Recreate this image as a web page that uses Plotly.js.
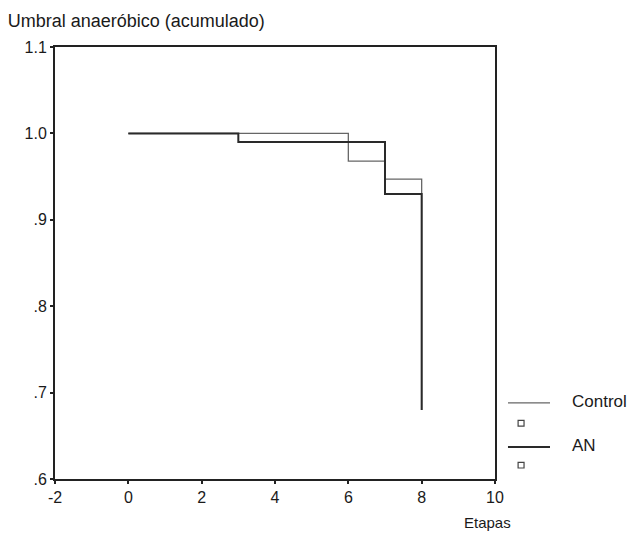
<!DOCTYPE html>
<html>
<head>
<meta charset="utf-8">
<script src="https://cdn.plot.ly/plotly-3.0.1.min.js"></script>
<style>html,body{margin:0;padding:0;background:#fff;}#chart{width:637px;height:537px;}</style>
</head>
<body>
<div id="chart"></div>
<script>
// Cumulative survival (step functions)
var controlX = [0, 6, 7, 8];
var controlY = [1.0, 0.968, 0.947, 0.68];
var anX = [0, 3, 7, 8];
var anY = [1.0, 0.99, 0.93, 0.68];

var xTicks = [-2, 0, 2, 4, 6, 8, 10];
var xTickText = ['-2', '0', '2', '4', '6', '8', '10'];
var yTicks = [0.6, 0.7, 0.8, 0.9, 1.0, 1.1];
var yTickText = ['.6', '.7', '.8', '.9', '1.0', '1.1'];

var seriesNames = ['Control', 'AN'];
var seriesColors = ['#666', '#2a2a2a'];
var seriesWidths = [1.3, 2];

var FONT = 'Liberation Sans, Arial, sans-serif';
var TXT = '#1a1a1a';
var traces = [
  {x: controlX, y: controlY, mode: 'lines', line: {shape: 'hv', color: seriesColors[0], width: seriesWidths[0]}, name: seriesNames[0]},
  {x: anX, y: anY, mode: 'lines', line: {shape: 'hv', color: seriesColors[1], width: seriesWidths[1]}, name: seriesNames[1]}
];

// manual legend (paper coords): line sample, label and a small square symbol below
var legLineY = [0.176, 0.074];
var legSqY = [0.129, 0.032];
var shapes = [], annotations = [];
for (var i = 0; i < seriesNames.length; i++) {
  shapes.push({type: 'line', xref: 'paper', yref: 'paper', x0: 1.0295, x1: 1.125, y0: legLineY[i], y1: legLineY[i],
               line: {color: seriesColors[i], width: seriesWidths[i]}});
  shapes.push({type: 'rect', xref: 'paper', yref: 'paper', x0: 1.0525, x1: 1.066, y0: legSqY[i] - 0.0065, y1: legSqY[i] + 0.0065,
               line: {color: '#444', width: 1.2}, fillcolor: 'rgba(0,0,0,0)'});
  annotations.push({text: seriesNames[i], xref: 'paper', yref: 'paper', x: 1.17, y: legLineY[i] + 0.004, xanchor: 'left', yanchor: 'middle',
                    showarrow: false, font: {family: FONT, size: 17, color: TXT}});
}
annotations.push({text: 'Etapas', xref: 'paper', yref: 'paper', x: 1.04, y: -0.1, xanchor: 'right', yanchor: 'middle',
                  showarrow: false, font: {family: FONT, size: 15, color: TXT}});

var layout = {
  width: 637, height: 537,
  margin: {l: 55, r: 142, t: 47, b: 58},
  paper_bgcolor: '#fff', plot_bgcolor: '#fff',
  font: {family: FONT, size: 16, color: TXT},
  title: {text: 'Umbral anaeróbico (acumulado)', x: 0.012, xanchor: 'left', y: 0.962, yanchor: 'middle',
          font: {family: FONT, size: 18, color: TXT}},
  xaxis: {range: [-2, 10], tickvals: xTicks, ticktext: xTickText, showgrid: false, zeroline: false,
          showline: true, mirror: true, linecolor: '#222', linewidth: 2,
          ticks: 'outside', ticklen: 3, tickwidth: 2, tickcolor: '#222',
          tickfont: {family: FONT, size: 16, color: TXT}},
  yaxis: {range: [0.6, 1.1], tickvals: yTicks, ticktext: yTickText, showgrid: false, zeroline: false,
          showline: true, mirror: true, linecolor: '#222', linewidth: 2,
          ticks: 'outside', ticklen: 3, tickwidth: 2, tickcolor: '#222',
          tickfont: {family: FONT, size: 16, color: TXT}},
  showlegend: false,
  shapes: shapes,
  annotations: annotations
};

Plotly.newPlot('chart', traces, layout, {displayModeBar: false});
</script>
</body>
</html>
